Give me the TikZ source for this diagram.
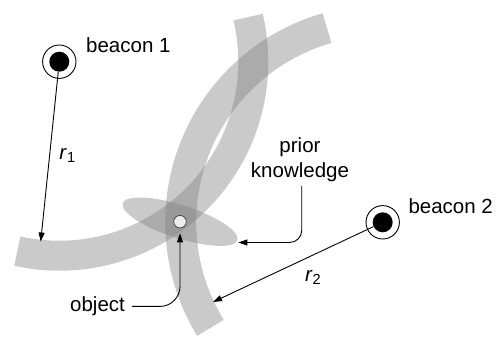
\documentclass[tikz,border=0pt]{standalone}
\usepackage{fontspec}
\setmainfont{Liberation Sans}
\usetikzlibrary{arrows.meta}
\begin{document}
\begin{tikzpicture}[x=1pt,y=-1pt,
  band/.style={draw=black!50, draw opacity=.42, line width=30pt},
  blob/.style={fill=black!50, fill opacity=.42},
  beacon/.style={circle, fill=black, inner sep=0pt, minimum size=20pt},
  ring/.style={draw=black, line width=0.9pt},
  arr/.style={draw=black, line width=0.9pt, -{Triangle[length=9pt,width=6pt]}},
  lbl/.style={inner sep=0pt, font=\fontsize{20.5}{24.4}\selectfont},
]
\useasboundingbox (0,0) rectangle (496,337);
% position bands
\draw[band] (59.3,61.7) ++(102.5:194) arc[start angle=102.5, end angle=-13.3, radius=194];
\draw[band, line width=31pt] (382.7,222.3) ++(148.5:202) arc[start angle=148.5, end angle=254, radius=202];
\fill[blob, rotate around={-17.8:(180,221.7)}] (180,221.7) ellipse [x radius=60.2pt, y radius=16.5pt];
% beacons and object
\node[beacon] (b1) at (59.3,61.7) {};
\draw[ring] (b1.center) circle[radius=16.7pt];
\node[beacon] (b2) at (382.7,222.3) {};
\draw[ring] (b2.center) circle[radius=16.7pt];
\node[circle, draw=black!75, fill=black!8, line width=0.7pt, minimum size=12.5pt, inner sep=0pt] (obj) at (180,221.7) {};
% labels
\node[lbl, anchor=base west] (l1) at (86,52.7) {beacon 1};
\node[lbl, anchor=base west] (l2) at (408.3,213.3) {beacon 2};
\node[lbl, anchor=base west] (lo) at (70,311.7) {object};
\node[lbl, align=center, anchor=base] (pk) at (300,177.3) {prior\\knowledge};
\node[lbl, anchor=base west] (r1) at (59.3,159.5) {\textit{r}\raisebox{-3.5pt}{\fontsize{14.6}{15}\selectfont 1}};
\node[lbl, anchor=base west] (r2) at (305,281) {\textit{r}\raisebox{-3.5pt}{\fontsize{14.6}{15}\selectfont 2}};
% arrows
\coordinate (t1) at (40.7,241.5);
\coordinate (t2) at (213,302);
\coordinate (tp) at (238.3,242.5);
\draw[arr] (b1) -- (t1);
\draw[arr] (b2) -- (t2);
\draw[arr, rounded corners=12pt] ([xshift=1.7pt,yshift=-4pt]pk.south) |- (tp);
\draw[arr, rounded corners=20pt] ([xshift=7pt]lo.east) -| ([yshift=-5pt]obj.south);
\end{tikzpicture}
\end{document}
